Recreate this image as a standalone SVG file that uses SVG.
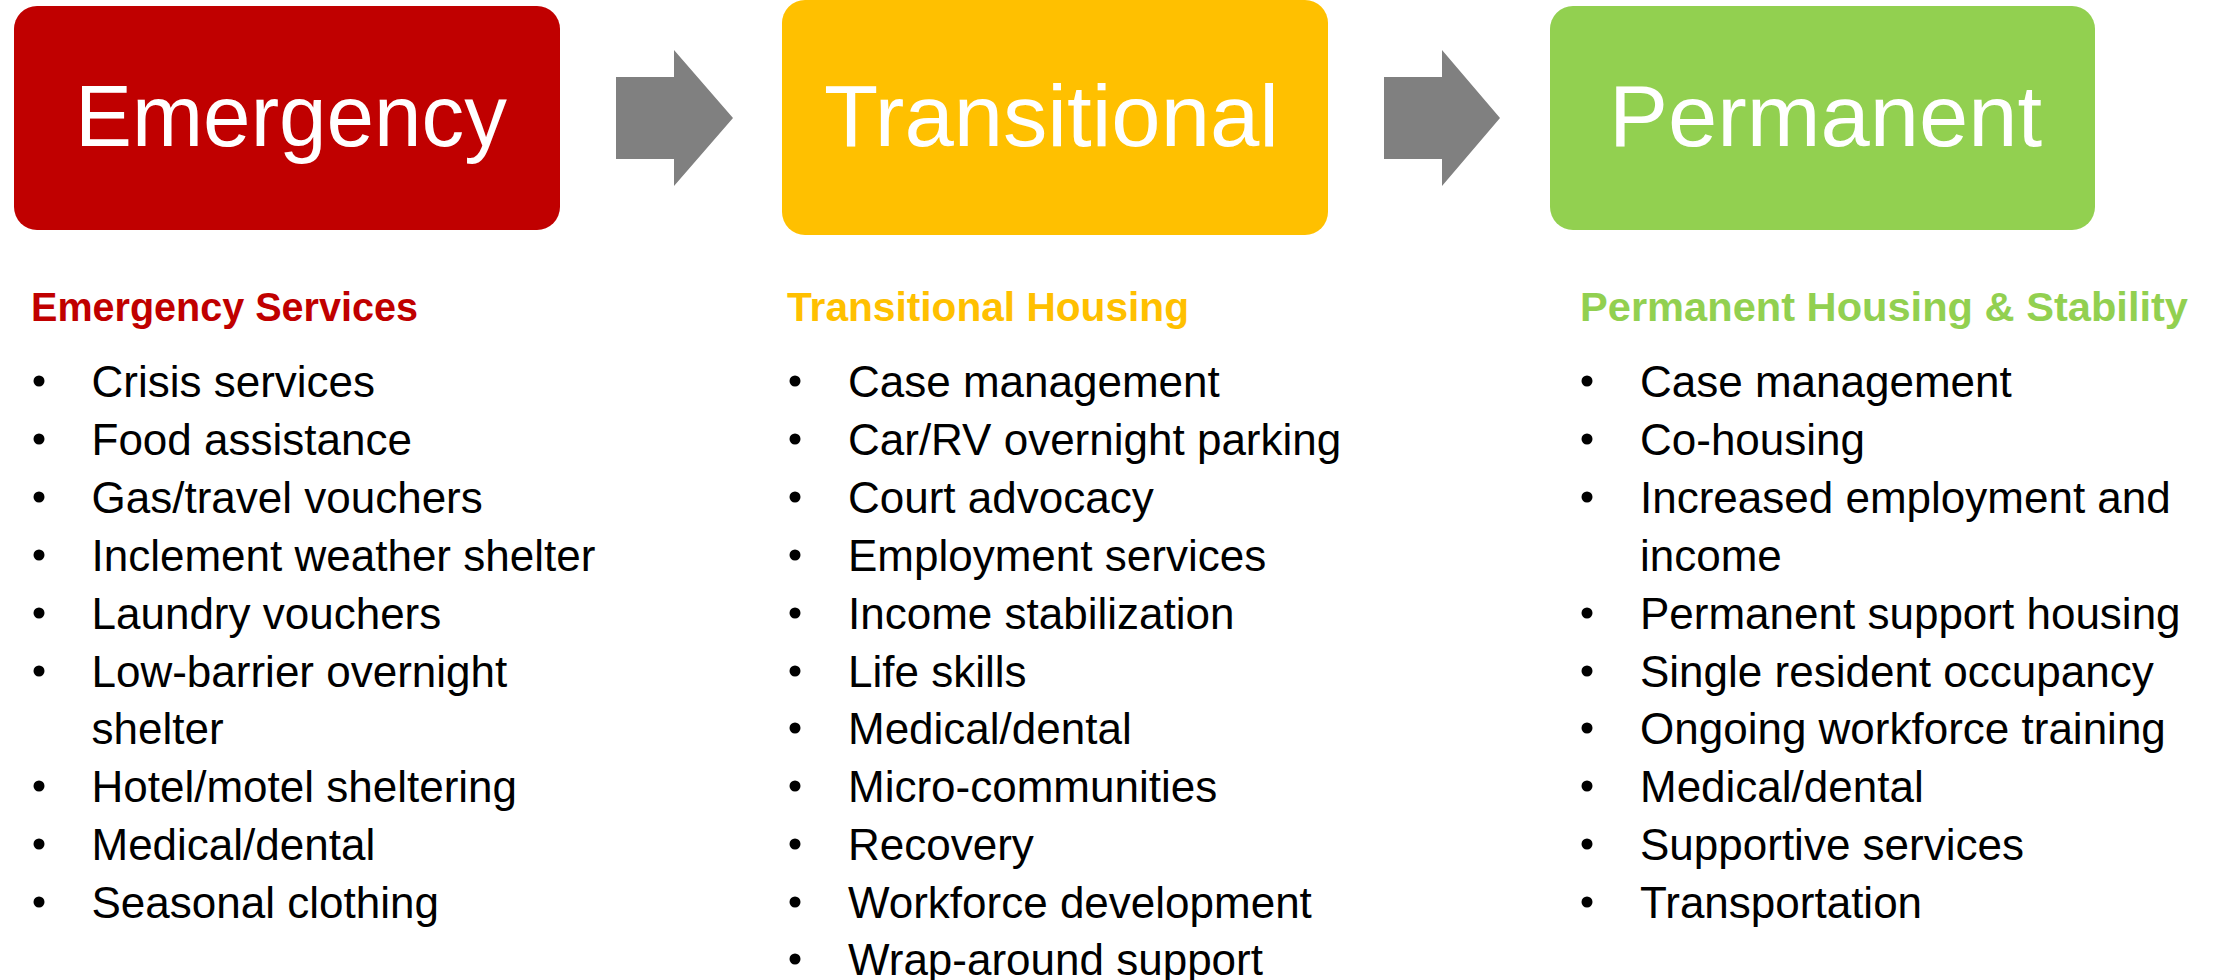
<svg xmlns="http://www.w3.org/2000/svg" width="2216" height="980" viewBox="0 0 2216 980">
<style>
.title{font-family:"Liberation Sans",Arial,sans-serif;font-size:87px;fill:#ffffff;text-anchor:middle}
.head{font-family:"Liberation Sans",Arial,sans-serif;font-size:40.5px;font-weight:bold}
.item{font-family:"Liberation Sans",Arial,sans-serif;font-size:44px;fill:#000000}
.bul{fill:#000000}
.arrow{fill:#808080}
</style>
<rect width="2216" height="980" fill="#ffffff"/>
<g id="connectors">
<polygon class="arrow" points="616,77 674,77 674,50 733,118 674,186 674,159 616,159"/>
<polygon class="arrow" points="1384,77 1442,77 1442,50 1500,118 1442,186 1442,159 1384,159"/>
</g>
<g id="node-emergency">
<rect x="14" y="6" width="546" height="224" rx="23" ry="23" fill="#C00000"/>
<text class="title" x="291" y="146" textLength="432" lengthAdjust="spacingAndGlyphs">Emergency</text>
</g>
<g id="node-transitional">
<rect x="782" y="0" width="546" height="235" rx="23" ry="23" fill="#FFC000"/>
<text class="title" x="1051.5" y="146" textLength="455" lengthAdjust="spacingAndGlyphs">Transitional</text>
</g>
<g id="node-permanent">
<rect x="1550" y="6" width="545" height="224" rx="23" ry="23" fill="#92D050"/>
<text class="title" x="1825.5" y="146" textLength="433" lengthAdjust="spacingAndGlyphs">Permanent</text>
</g>
<g id="list-emergency">
<text class="head" x="31" y="321" fill="#C00000" textLength="387" lengthAdjust="spacingAndGlyphs">Emergency Services</text>
<g class="bul">
<circle cx="39" cy="381" r="5.5"/><circle cx="39" cy="439" r="5.5"/><circle cx="39" cy="497" r="5.5"/><circle cx="39" cy="555" r="5.5"/><circle cx="39" cy="613" r="5.5"/><circle cx="39" cy="671" r="5.5"/><circle cx="39" cy="786" r="5.5"/><circle cx="39" cy="844" r="5.5"/><circle cx="39" cy="902" r="5.5"/>
</g>
<text class="item" x="91.5" y="397">Crisis services</text>
<text class="item" x="91.5" y="455">Food assistance</text>
<text class="item" x="91.5" y="513">Gas/travel vouchers</text>
<text class="item" x="91.5" y="571">Inclement weather shelter</text>
<text class="item" x="91.5" y="629">Laundry vouchers</text>
<text class="item" x="91.5" y="687">Low-barrier overnight</text>
<text class="item" x="91.5" y="744">shelter</text>
<text class="item" x="91.5" y="802">Hotel/motel sheltering</text>
<text class="item" x="91.5" y="860">Medical/dental</text>
<text class="item" x="91.5" y="918">Seasonal clothing</text>
</g>
<g id="list-transitional">
<text class="head" x="787" y="321" fill="#FFC000" textLength="402" lengthAdjust="spacingAndGlyphs">Transitional Housing</text>
<g class="bul">
<circle cx="795" cy="381" r="5.5"/><circle cx="795" cy="439" r="5.5"/><circle cx="795" cy="497" r="5.5"/><circle cx="795" cy="555" r="5.5"/><circle cx="795" cy="613" r="5.5"/><circle cx="795" cy="671" r="5.5"/><circle cx="795" cy="728" r="5.5"/><circle cx="795" cy="786" r="5.5"/><circle cx="795" cy="844" r="5.5"/><circle cx="795" cy="902" r="5.5"/><circle cx="795" cy="959" r="5.5"/>
</g>
<text class="item" x="848" y="397">Case management</text>
<text class="item" x="848" y="455">Car/RV overnight parking</text>
<text class="item" x="848" y="513">Court advocacy</text>
<text class="item" x="848" y="571">Employment services</text>
<text class="item" x="848" y="629">Income stabilization</text>
<text class="item" x="848" y="687">Life skills</text>
<text class="item" x="848" y="744">Medical/dental</text>
<text class="item" x="848" y="802">Micro-communities</text>
<text class="item" x="848" y="860">Recovery</text>
<text class="item" x="848" y="918">Workforce development</text>
<text class="item" x="848" y="975">Wrap-around support</text>
</g>
<g id="list-permanent">
<text class="head" x="1580" y="321" fill="#92D050" textLength="608" lengthAdjust="spacingAndGlyphs">Permanent Housing &amp; Stability</text>
<g class="bul">
<circle cx="1587" cy="381" r="5.5"/><circle cx="1587" cy="439" r="5.5"/><circle cx="1587" cy="497" r="5.5"/><circle cx="1587" cy="613" r="5.5"/><circle cx="1587" cy="671" r="5.5"/><circle cx="1587" cy="728" r="5.5"/><circle cx="1587" cy="786" r="5.5"/><circle cx="1587" cy="844" r="5.5"/><circle cx="1587" cy="902" r="5.5"/>
</g>
<text class="item" x="1640" y="397">Case management</text>
<text class="item" x="1640" y="455">Co-housing</text>
<text class="item" x="1640" y="513">Increased employment and</text>
<text class="item" x="1640" y="571">income</text>
<text class="item" x="1640" y="629">Permanent support housing</text>
<text class="item" x="1640" y="687">Single resident occupancy</text>
<text class="item" x="1640" y="744">Ongoing workforce training</text>
<text class="item" x="1640" y="802">Medical/dental</text>
<text class="item" x="1640" y="860">Supportive services</text>
<text class="item" x="1640" y="918">Transportation</text>
</g>
</svg>
